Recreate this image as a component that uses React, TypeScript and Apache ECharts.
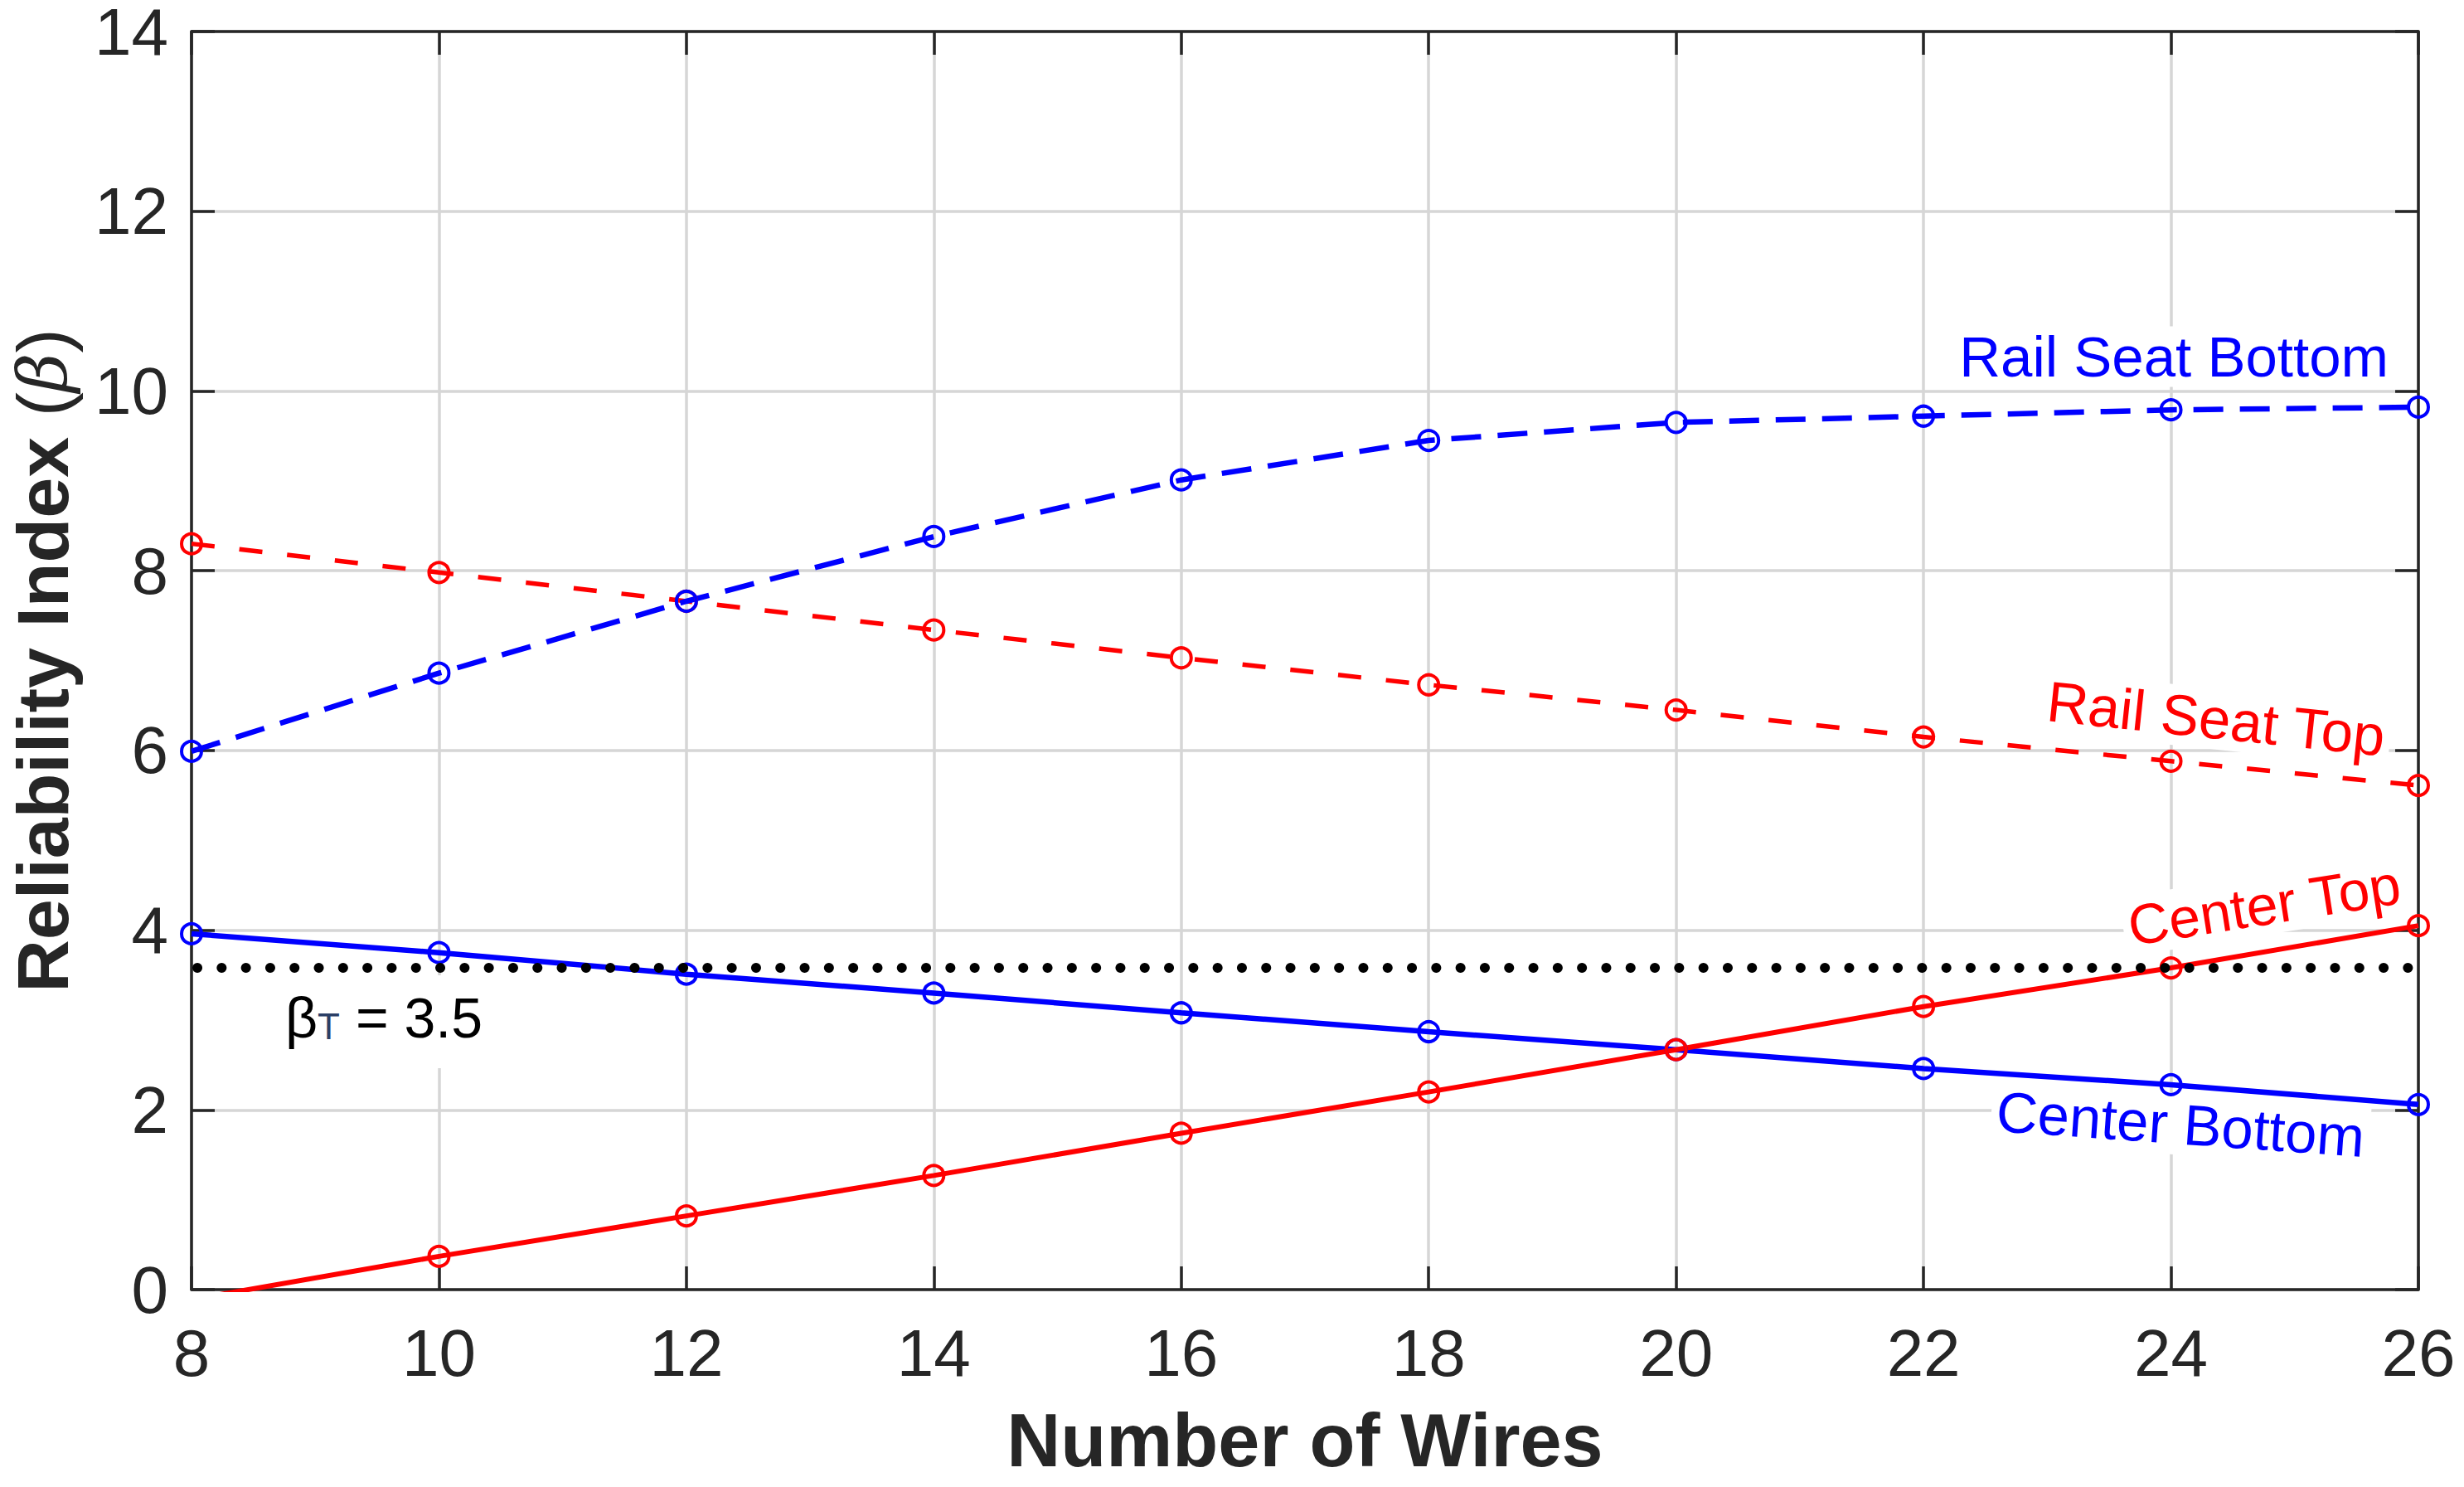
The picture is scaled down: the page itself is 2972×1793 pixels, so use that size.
import React, { useEffect, useRef } from "react";
import * as echarts from "echarts";

// ---- data ----
const wires = [8, 10, 12, 14, 16, 18, 20, 22, 24, 26];
const railSeatBottom = [5.99, 6.86, 7.66, 8.38, 9.01, 9.45, 9.65, 9.72, 9.79, 9.82];
const railSeatTop = [8.3, 7.98, 7.66, 7.34, 7.03, 6.73, 6.45, 6.15, 5.88, 5.61];
const centerBottom = [3.96, 3.75, 3.51, 3.3, 3.08, 2.87, 2.67, 2.46, 2.28, 2.06];
const centerTop = [-0.11, 0.37, 0.82, 1.27, 1.74, 2.2, 2.67, 3.15, 3.58, 4.05];
const targetX = [8, 26];
const targetBeta = 3.58;
const xRange = [8, 26];
const yRange = [0, 14];
const tickStep = 2;

const AX = "#262626";
const FONT = '"Liberation Sans", Arial, Helvetica, sans-serif';
const BLUE = "#0000ff";
const RED = "#ff0000";

function mkSeries(name: string, values: number[], color: string, lineType: any, width: number) {
  return {
    type: "line",
    name,
    data: wires.map((w, i) =>
      values[i] < yRange[0] ? { value: [w, values[i]], symbol: "none" } : [w, values[i]]
    ),
    symbol: "circle",
    symbolSize: 24,
    showAllSymbol: true,
    clip: true,
    itemStyle: { color: "rgba(0,0,0,0)", borderColor: color, borderWidth: 4 },
    lineStyle: { color, width, type: lineType },
    emphasis: { disabled: true },
    z: 3,
  };
}

export default function App() {
  const ref = useRef<HTMLDivElement>(null);
  useEffect(() => {
    const chart = echarts.init(ref.current!, null, { renderer: "svg" });
    const axisLine = { show: true, onZero: false, lineStyle: { color: AX, width: 3.5 } };
    const axisTick = { show: true, inside: true, length: 28, lineStyle: { color: AX, width: 3.5 } };
    const splitLine = { show: true, lineStyle: { color: "#d6d6d6", width: 3.5 } };
    const option: any = {
      animation: false,
      backgroundColor: "#ffffff",
      grid: { left: 231, right: 55, top: 38, bottom: 238, containLabel: false, outerBoundsMode: "none" },
      xAxis: [
        {
          type: "value",
          position: "bottom",
          min: xRange[0],
          max: xRange[1],
          interval: tickStep,
          axisLine,
          axisTick,
          splitLine,
          axisLabel: { color: AX, fontSize: 80, fontFamily: FONT, margin: 36 },
          name: "Number of Wires",
          nameLocation: "middle",
          nameGap: 137,
          nameTextStyle: { fontSize: 90, fontWeight: "bold", color: AX, fontFamily: FONT },
        },
        {
          type: "value",
          position: "top",
          min: xRange[0],
          max: xRange[1],
          interval: tickStep,
          axisLine,
          axisTick,
          splitLine: { show: false },
          axisLabel: { show: false },
        },
      ],
      yAxis: [
        {
          type: "value",
          position: "left",
          min: yRange[0],
          max: yRange[1],
          interval: tickStep,
          axisLine,
          axisTick,
          splitLine,
          axisLabel: {
            color: AX,
            fontSize: 80,
            fontFamily: FONT,
            margin: 28,
            lineHeight: 48,
            padding: [18, 0, 0, 0],
          },
          name: "{b|Reliability Index }{p|(}{g|β}{p|)}",
          nameLocation: "middle",
          nameGap: 142,
          nameTextStyle: {
            rich: {
              b: { fontSize: 88, fontWeight: "bold", fontFamily: FONT, color: AX, lineHeight: 76 },
              p: { fontSize: 88, fontFamily: FONT, color: AX, lineHeight: 76 },
              g: {
                fontSize: 82,
                fontStyle: "italic",
                fontFamily: '"DejaVu Serif", "Liberation Serif", serif',
                color: AX,
                lineHeight: 76,
              },
            },
          },
        },
        {
          type: "value",
          position: "right",
          min: yRange[0],
          max: yRange[1],
          interval: tickStep,
          axisLine,
          axisTick,
          splitLine: { show: false },
          axisLabel: { show: false },
        },
      ],
      series: [
        mkSeries("Rail Seat Top", railSeatTop, RED, [28, 30], 5.5),
        mkSeries("Rail Seat Bottom", railSeatBottom, BLUE, [36, 20], 6.5),
        mkSeries("Center Bottom", centerBottom, BLUE, "solid", 6.5),
        mkSeries("Center Top", centerTop, RED, "solid", 6),
        {
          type: "line",
          name: "βT",
          data: targetX.map((x) => [x, targetBeta]),
          symbol: "none",
          lineStyle: { color: "#000000", width: 12, type: [0.1, 29.2], cap: "round", dashOffset: -7 },
          emphasis: { disabled: true },
          z: 4,
        },
      ],
      graphic: [
        {
          type: "text",
          x: 2887,
          y: 430,
          z: 1,
          style: {
            text: "Rail Seat Bottom",
            fill: BLUE,
            fontSize: 69,
            fontFamily: FONT,
            align: "right",
            verticalAlign: "middle",
            backgroundColor: "#ffffff",
            padding: [2, 6],
          },
        },
        {
          type: "text",
          x: 2673,
          y: 867,
          z: 1,
          rotation: (-6 * Math.PI) / 180,
          style: {
            text: "Rail Seat Top",
            fill: RED,
            fontSize: 69,
            fontFamily: FONT,
            align: "center",
            verticalAlign: "middle",
            backgroundColor: "#ffffff",
            padding: [2, 6],
          },
        },
        {
          type: "text",
          x: 2731,
          y: 1091,
          z: 1,
          rotation: (9 * Math.PI) / 180,
          style: {
            text: "Center Top",
            fill: RED,
            fontSize: 68,
            fontFamily: FONT,
            align: "center",
            verticalAlign: "middle",
            backgroundColor: "#ffffff",
            padding: [2, 6],
          },
        },
        {
          type: "text",
          x: 2630,
          y: 1356,
          z: 1,
          rotation: (-4 * Math.PI) / 180,
          style: {
            text: "Center Bottom",
            fill: BLUE,
            fontSize: 69,
            fontFamily: FONT,
            align: "center",
            verticalAlign: "middle",
            backgroundColor: "#ffffff",
            padding: [2, 6],
          },
        },
        {
          type: "text",
          x: 330,
          y: 1176,
          z: 1,
          style: {
            text: "{b|β}{s|T}{b| = 3.5}",
            align: "left",
            verticalAlign: "top",
            backgroundColor: "#ffffff",
            padding: [17, 14, 29, 14],
            rich: {
              b: { fontSize: 68, fontFamily: FONT, fill: "#000000", color: "#000000", lineHeight: 66, verticalAlign: "top" },
              s: {
                fontSize: 44,
                fontFamily: FONT,
                fill: "#2b3f66",
                color: "#2b3f66",
                lineHeight: 43,
                verticalAlign: "bottom",
                padding: [34, 0, 0, 0],
              },
            },
          },
        },
      ],
    };
    chart.setOption(option);
    return () => chart.dispose();
  }, []);
  return (
    <div
      ref={ref}
      style={{ position: "fixed", left: 0, top: 0, width: "2972px", height: "1793px", background: "#fff" }}
    />
  );
}
